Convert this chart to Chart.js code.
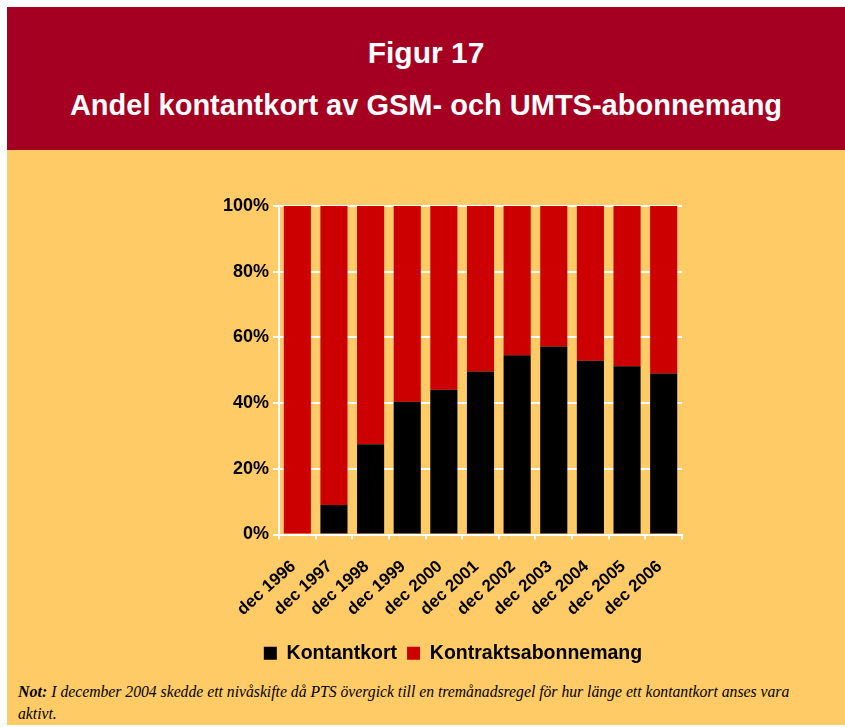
<!DOCTYPE html>
<html>
<head>
<meta charset="utf-8">
<script src="https://cdn.jsdelivr.net/npm/chart.js@4"></script>
<style>
  body { margin: 0; background: #fff; width: 845px; height: 727px; overflow: hidden; font-family: "Liberation Sans", Arial, sans-serif; }
  #banner { position: absolute; left: 7px; top: 7px; width: 838px; height: 143px; background: #A50021; color: #fff; text-align: center; }
  #banner .t1 { position: absolute; left: 0; right: 0; top: 29px; font-size: 30px; font-weight: bold; }
  #banner .t2 { position: absolute; left: 0; right: 0; top: 82px; font-size: 29px; font-weight: bold; }
  #panel { position: absolute; left: 7px; top: 150px; width: 838px; height: 575px; background: #FECB66; }
  #chartBox { position: absolute; left: 0; top: 0; width: 838px; height: 523px; }
  #note { position: absolute; left: 11px; top: 531px; font-family: "Liberation Serif", serif; font-style: italic; font-size: 15.7px; line-height: 22px; color: #000; }
  #note b { font-size: 16px; }
</style>
</head>
<body>
<div id="banner">
  <div class="t1">Figur 17</div>
  <div class="t2">Andel kontantkort av GSM- och UMTS-abonnemang</div>
</div>
<div id="panel">
  <div id="chartBox"><canvas id="chart"></canvas></div>
  <div id="note"><b>Not:</b> I december 2004 skedde ett nivåskifte då PTS övergick till en tremånadsregel för hur länge ett kontantkort anses vara<br>aktivt.</div>
</div>
<script>
// data
const years = ['dec 1996', 'dec 1997', 'dec 1998', 'dec 1999', 'dec 2000', 'dec 2001',
               'dec 2002', 'dec 2003', 'dec 2004', 'dec 2005', 'dec 2006'];
const kontantkort = [0, 9, 27.5, 40.4, 44.1, 49.6, 54.6, 57.2, 52.9, 51.2, 49.0];
const kontrakt = kontantkort.map(v => 100 - v);
const yTicks = [0, 20, 40, 60, 80, 100];

const ctx = document.getElementById('chart').getContext('2d');
new Chart(ctx, {
  type: 'bar',
  data: {
    labels: years,
    datasets: [
      { label: 'Kontantkort', data: kontantkort, backgroundColor: '#000000',
        barPercentage: 0.74, categoryPercentage: 1 },
      { label: 'Kontraktsabonnemang', data: kontrakt, backgroundColor: '#CC0000',
        barPercentage: 0.74, categoryPercentage: 1 }
    ]
  },
  options: {
    responsive: true,
    maintainAspectRatio: false,
    animation: false,
    layout: { padding: { left: 217, right: 163, top: 56, bottom: 0 } },
    plugins: {
      legend: {
        position: 'bottom',
        labels: {
          color: '#000',
          font: { family: 'Liberation Sans', size: 19.5, weight: 'bold' },
          boxWidth: 13, boxHeight: 13, padding: 10
        }
      },
      tooltip: { enabled: false }
    },
    scales: {
      x: {
        stacked: true,
        grid: { color: '#fff', lineWidth: 2, drawOnChartArea: false, tickLength: 5 },
        border: { color: '#fff', width: 2 },
        ticks: {
          color: '#000', maxRotation: 42, minRotation: 42, padding: 17, labelOffset: -4,
          font: { family: 'Liberation Sans', size: 17, weight: 'bold' }
        },
        afterFit: function (scale) { scale.height = 99; }
      },
      y: {
        stacked: true,
        min: 0, max: 100,
        afterBuildTicks: function (scale) { scale.ticks = yTicks.map(v => ({ value: v })); },
        grid: { color: '#fff', lineWidth: 2, tickLength: 6 },
        border: { color: '#fff', width: 2 },
        ticks: {
          color: '#000', padding: 4,
          font: { family: 'Liberation Sans', size: 18, weight: 'bold' },
          callback: v => v + '%'
        },
        afterFit: function (scale) { scale.width = 55; }
      }
    }
  }
});
</script>
</body>
</html>
